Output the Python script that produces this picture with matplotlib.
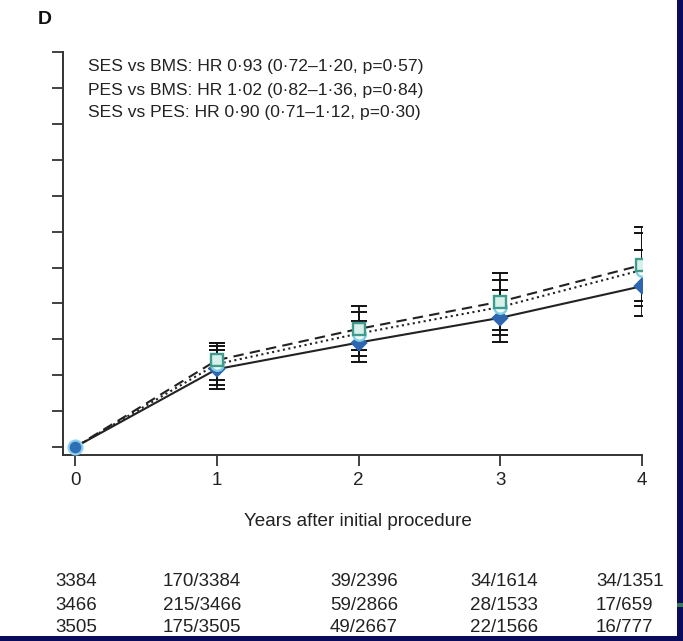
import matplotlib
matplotlib.use("Agg")
import matplotlib.pyplot as plt
from matplotlib.patches import Rectangle
import numpy as np

plt.rcParams['font.family'] = ['Liberation Sans Narrow', 'Liberation Sans', 'DejaVu Sans']

# ---- data (y in units of one tick interval; y axis is unlabelled) ----
years = [0, 1, 2, 3, 4]
dashed_sq = [0, 2.42, 3.29, 4.05, 5.07]
dashed_sq_hi = [0, 2.91, 3.92, 4.85, 6.13]
dashed_sq_lo = [0, 1.87, 2.70, 3.27, 4.08]
dotted_ci = [0, 2.31, 3.16, 3.90, 4.93]
dotted_ci_hi = [0, 2.81, 3.75, 4.64, 5.97]
dotted_ci_lo = [0, 1.74, 2.55, 3.12, 3.94]
solid_di = [0, 2.17, 2.91, 3.60, 4.48]
solid_di_hi = [0, 2.69, 3.51, 4.37, 5.49]
solid_di_lo = [0, 1.62, 2.38, 2.92, 3.66]

xtick_labels = ["0", "1", "2", "3", "4"]
ytick_values = list(range(0, 12))

panel_label = "D"
stats_lines = [
    "SES vs BMS: HR 0\u00b793 (0\u00b772\u20131\u00b720, p=0\u00b757)",
    "PES vs BMS: HR 1\u00b702 (0\u00b782\u20131\u00b736, p=0\u00b784)",
    "SES vs PES: HR 0\u00b790 (0\u00b771\u20131\u00b712, p=0\u00b730)",
]
xlabel = "Years after initial procedure"
risk_rows = [
    ["3384", "170/3384", "39/2396", "34/1614", "34/1351"],
    ["3466", "215/3466", "59/2866", "28/1533", "17/659"],
    ["3505", "175/3505", "49/2667", "22/1566", "16/777"],
]

W, H = 683, 641
fig = plt.figure(figsize=(W / 100, H / 100), dpi=100)
fig.patch.set_facecolor("white")

def fx(px):
    return px / W

def fy(py):
    return 1 - py / H

ax = fig.add_axes([fx(63), fy(455), fx(642) - fx(63), fy(52) - fy(455)])
ax.set_xlim(-0.085, 4.0)
ax.set_ylim(-0.22, 11.0)

series = [
    (solid_di, solid_di_lo, solid_di_hi, '-', 'D', '#2f66b0', '#2f66b0', 7.0),
    (dotted_ci, dotted_ci_lo, dotted_ci_hi, ':', 'o', '#f4fbfd', '#7fd0e0', 9.0),
    (dashed_sq, dashed_sq_lo, dashed_sq_hi, (0, (5, 3)), 's', '#d8f0ea', '#3f9c8c', 8.0),
]
for vals, lo, hi, ls, mk, mfc, mec, ms in series:
    v = np.array(vals)
    err = np.vstack([v - np.array(lo), np.array(hi) - v])
    ax.errorbar(years[1:], v[1:], yerr=err[:, 1:], fmt='none', ecolor='#111111',
                elinewidth=1.3, capsize=5.5, capthick=1.4, zorder=2)
for vals, lo, hi, ls, mk, mfc, mec, ms in series:
    ax.plot(years, vals, linestyle=ls, color='#222222', lw=1.5, zorder=3)
for vals, lo, hi, ls, mk, mfc, mec, ms in series:
    ax.plot(years[1:], vals[1:], linestyle='none', marker=mk, ms=ms, mfc=mfc,
            mec=mec, mew=1.7, zorder=4)
# common start point
ax.plot(years[:1], solid_di[:1], linestyle='none', marker='o', ms=10,
        mfc='#2f6fb8', mec='#8fd0ee', mew=1.6, zorder=5)

for s in ['top', 'right']:
    ax.spines[s].set_visible(False)
for s in ['left', 'bottom']:
    ax.spines[s].set_color('#333333')
    ax.spines[s].set_linewidth(1.4)

ax.set_xticks(years)
ax.set_xticklabels(xtick_labels, fontsize=13.5, color='#222222')
ax.set_yticks(ytick_values)
ax.set_yticklabels([])
ax.tick_params(axis='both', direction='out', length=8, width=1.3, color='#333333')
ax.tick_params(axis='x', pad=4)

fig.text(fx(38), fy(20), panel_label, fontsize=14, fontweight='bold',
         family=['Liberation Sans', 'DejaVu Sans'], va='center', ha='left', color='#111111')
for i, line in enumerate(stats_lines):
    fig.text(fx(88), fy(67 + 23 * i), line, fontsize=12.6, va='center', ha='left', color='#222222')

fig.text(fx(358), fy(521), xlabel, fontsize=13.6, va='center', ha='center', color='#222222')

col_x = [55, 163, 330, 470, 596]
row_y = [582, 605, 628]
for r, row in enumerate(risk_rows):
    for c, txt in enumerate(row):
        fig.text(fx(col_x[c]), fy(row_y[r]), txt, fontsize=13.5, va='center',
                 ha='left', color='#222222')

# dark frame edges of the slide
navy = '#0b0b5c'
fig.patches.append(Rectangle((fx(677), 0), 1 - fx(677), 1, transform=fig.transFigure,
                             facecolor=navy, edgecolor='none', zorder=10))
fig.patches.append(Rectangle((0, 0), 1, fy(636), transform=fig.transFigure,
                             facecolor=navy, edgecolor='none', zorder=10))
fig.patches.append(Rectangle((fx(677), fy(607)), 1 - fx(677), fy(603) - fy(607),
                             transform=fig.transFigure, facecolor='#3a7a5a',
                             edgecolor='none', zorder=11))

fig.savefig("out.png", dpi=100)
